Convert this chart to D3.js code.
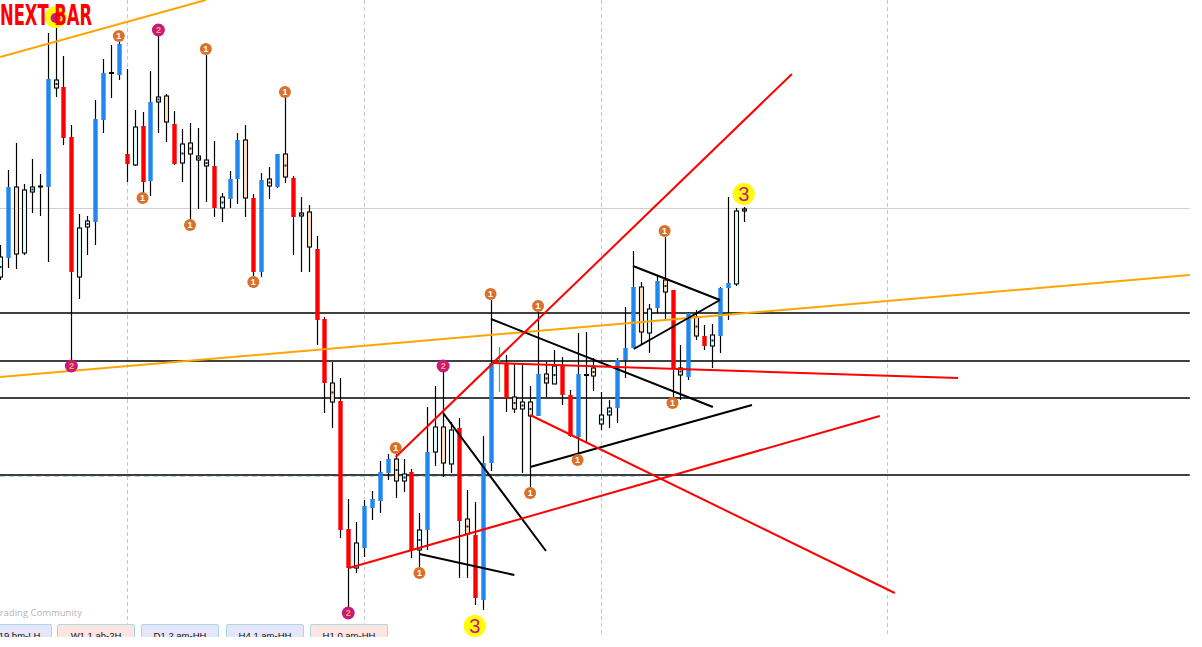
<!DOCTYPE html>
<html>
<head>
<meta charset="utf-8">
<title>next bar</title>
<style>
  body{margin:0;background:#fff;}
  svg{display:block;font-family:"Liberation Sans",Arial,sans-serif;}
</style>
<script src="https://d3js.org/d3.v7.min.js"></script>
</head>
<body>
<svg width="1202" height="647"></svg>
<script>
// candle kinds: B blue up, R red down, C light up, W wheat down, D doji, G green tick
var kinds = ["C","B","W","C","C","D","B","W","R","R",
             "C","C","B","B","D","B","R","C","R","B",
             "C","W","R","C","W","C","W","R","C","B",
             "B","W","R","B","W","B","W","R","C","W",
             "R","R","W","R","R","C","B","B","B","B",
             "W","C","R","C","B","C","W","C","R","W",
             "R","B","B","G","R","W","C","W","B","W",
             "C","R","R","B","D","W","C","C","B","B",
             "B","W","C","B","W","R","W","B","W","R",
             "C","B","B","C","C"];
var highs = [402,477,504,463,488,473,614,635,591,522,
             433,431,547,588,602,605,578,537,535,576,
             611,553,536,518,524,519,592,506,454,476,
             514,522,453,474,480,493,550,471,450,442,
             411,330,285,269,148,125,147,156,186,193,
             193,188,178,134,240,261,275,225,229,157,
             145,211,347,300,292,283,283,261,335,285,
             297,290,257,314,315,289,255,247,289,340,
             396,365,343,372,410,357,302,335,337,322,
             323,360,450,439,440];
var lows  = [367,379,378,392,434,431,385,550,502,287,
             348,392,402,514,549,567,465,481,454,451,
             514,505,482,465,427,438,445,430,425,439,
             443,430,370,370,448,459,464,392,375,375,
             302,234,219,109,40,74,90,127,134,167,
             149,155,89,80,97,181,170,174,69,69,
             42,37,176,255,235,234,174,160,231,250,
             263,242,210,194,205,256,217,219,224,269,
             299,302,294,334,327,249,247,267,307,297,
             279,294,327,361,425];
var opens = [370,389,460,394,455,460,460,567,560,510,
             370,420,425,527,573,572,493,482,521,466,
             545,551,523,484,504,487,487,481,439,448,
             468,507,449,375,468,460,493,469,431,435,
             398,328,264,246,118,79,99,139,146,174,
             188,166,175,97,117,195,220,183,219,128,
             112,47,184,277,284,250,238,245,231,273,
             263,281,252,210,271,279,223,232,239,287,
             299,360,314,339,367,357,279,270,330,311,
             301,311,359,363,436];
var closes = [390,460,393,457,460,461,568,559,509,375,
              419,426,528,574,575,603,483,520,465,545,
              550,525,483,503,493,491,481,439,450,468,
              507,449,375,467,461,493,470,430,434,400,
              327,264,245,117,79,104,141,148,175,188,
              166,173,97,117,195,220,184,217,126,113,
              49,184,284,278,249,238,245,231,273,264,
              281,252,211,273,273,271,232,239,287,299,
              360,315,338,366,355,279,272,334,311,301,
              312,359,364,436,438];

// swing labels
var markIdx = [7,7,15,20,26,36,18,24,32,9,62,68,56,50,67,53,44,60,73,84,85,94];
var markLvl = [630,629,611,617,598,555,449,422,365,281,353,341,281,199,154,74,34,21,187,416,244,453];
var markLbl = ["3","2","1","2","1","1","1","1","1","2","1","1","2","1","1","1","2","3","1","1","1","3"];

// levels and drawn lines (bar index, price level)
var hLevels = [334, 286, 249, 172];
var grayLevel = 439;
var tealLevel = 170.5;
var sepIdx = [16, 46, 76, 112.1];
var lastIdx = 150.4;
var orangeLines = [[[0,590],[26,647]], [[0,270],[150.4,372]]];
var redLines = [[[50,190],[100.1,573]], [[44.1,79],[111.2,231]],
                [[62.3,284],[121.1,269]], [[67,232],[113.1,54]]];
var blackLines = [[[56,234],[69,96]], [[53,93],[65,72]],
                  [[62.05,328],[90.1,240]], [[67,180],[95.05,242]],
                  [[80,381],[91,347]], [[80.1,298],[91,347]]];

var tabLabels = ["19 bm-LH", "W1 1 ah-2H", "D1 2 am-HH", "H4 1 am-HH", "H1 0 am-HH"];
var tabFills = ["#e6e6fa", "#ffe4e1", "#e6e6fa", "#e6e6fa", "#ffe4e1"];

var svg = d3.select("svg");
var x = d3.scaleLinear().domain([0, 94]).range([0.2, 743.7]);
var y = d3.scaleLinear().domain([0, 647]).range([647, 0]);

svg.append("defs").append("clipPath").attr("id", "plot")
   .append("rect").attr("x", 0).attr("y", 0).attr("width", 1191).attr("height", 637);

var g = svg.append("g").attr("clip-path", "url(#plot)");

// separators
g.selectAll(".sep").data(sepIdx).enter().append("line")
 .attr("x1", function(d){ return Math.round(x(d)) + 0.5; })
 .attr("x2", function(d){ return Math.round(x(d)) + 0.5; })
 .attr("y1", 0).attr("y2", 637)
 .attr("stroke", "#c8c8c8").attr("stroke-dasharray", "4,3");

g.append("line").attr("x1", 0).attr("x2", x(lastIdx))
 .attr("y1", Math.round(y(grayLevel)) + 0.5).attr("y2", Math.round(y(grayLevel)) + 0.5)
 .attr("stroke", "#cfcfcf");

g.append("line").attr("x1", 0).attr("x2", 640)
 .attr("y1", y(tealLevel)).attr("y2", y(tealLevel))
 .attr("stroke", "#a9d6d6").attr("stroke-dasharray", "5,4");

g.selectAll(".hl").data(hLevels).enter().append("line")
 .attr("x1", 0).attr("x2", x(lastIdx))
 .attr("y1", function(d){ return y(d); }).attr("y2", function(d){ return y(d); })
 .attr("stroke", "#000").attr("stroke-width", 1.3);

// candles
var fills = {B:"#1e88f0", R:"#ff0000", C:"#e0ffff", W:"#ffe4c4"};
var idx = d3.range(kinds.length);
var c = g.selectAll(".candle").data(idx).enter().append("g");
c.append("line")
 .attr("x1", function(i){ return Math.round(x(i)) + 0.5; })
 .attr("x2", function(i){ return Math.round(x(i)) + 0.5; })
 .attr("y1", function(i){ return y(highs[i]); })
 .attr("y2", function(i){ return y(lows[i]); })
 .attr("stroke", function(i){ return kinds[i] == "G" ? "#00e000" : "#000"; })
 .attr("stroke-width", 1.2);
c.filter(function(i){ return kinds[i] != "G"; }).append("rect")
 .attr("x", function(i){
    var k = kinds[i];
    return Math.round(x(i)) + (k == "B" || k == "R" ? -1.7 : k == "D" ? -2 : -1.5);
 })
 .attr("width", function(i){ var k = kinds[i]; return k == "B" || k == "R" ? 4.4 : k == "D" ? 5 : 4; })
 .attr("y", function(i){
    if (kinds[i] == "D") return y((opens[i] + closes[i]) / 2) - 1;
    return y(Math.max(opens[i], closes[i]));
 })
 .attr("height", function(i){
    if (kinds[i] == "D") return 2;
    return Math.max(1, Math.abs(opens[i] - closes[i]));
 })
 .attr("fill", function(i){ return fills[kinds[i]] || "#000"; })
 .attr("stroke", function(i){ var k = kinds[i]; return k == "C" || k == "W" ? "#000" : "none"; })
 .attr("stroke-width", 1.1);
// small dot on short light bodies
c.filter(function(i){ return (kinds[i] == "C" || kinds[i] == "W") && Math.abs(opens[i] - closes[i]) < 24; })
 .append("rect")
 .attr("x", function(i){ return Math.round(x(i)) - 0.5; })
 .attr("y", function(i){ return y((opens[i] + closes[i]) / 2) - 1; })
 .attr("width", 2).attr("height", 2).attr("fill", "#0a2a55");

// trendlines
function drawLines(data, color) {
  g.selectAll(null).data(data).enter().append("line")
   .attr("x1", function(d){ return x(d[0][0]); }).attr("y1", function(d){ return y(d[0][1]); })
   .attr("x2", function(d){ return x(d[1][0]); }).attr("y2", function(d){ return y(d[1][1]); })
   .attr("stroke", color).attr("stroke-width", 2);
}
drawLines(orangeLines, "#ffa500");
drawLines(blackLines, "#000");
drawLines(redLines, "#ff0000");

// swing labels
var mk = g.selectAll(".mk").data(d3.range(markIdx.length)).enter().append("g")
 .attr("transform", function(i){ return "translate(" + x(markIdx[i]) + "," + y(markLvl[i]) + ")"; });
mk.append("circle")
 .attr("r", function(i){ return markLbl[i] == "3" ? 11 : markLbl[i] == "2" ? (markIdx[i] == 7 ? 5 : 6.5) : 6; })
 .attr("fill", function(i){ return markLbl[i] == "3" ? "#ffff00" : markLbl[i] == "2" ? "#c8197e" : "#d8722a"; });
mk.filter(function(i){ return markIdx[i] != 7 || markLbl[i] == "3"; }).append("text")
 .attr("text-anchor", "middle")
 .attr("dy", function(i){ return markLbl[i] == "3" ? 6.5 : 3.2; })
 .attr("font-size", function(i){ return markLbl[i] == "3" ? 20 : 9; })
 .attr("font-weight", function(i){ return markLbl[i] == "3" ? "normal" : "bold"; })
 .attr("fill", function(i){ return markLbl[i] == "3" ? "#c71585" : markLbl[i] == "2" ? "#ffb347" : "#fff"; })
 .text(function(i){ return markIdx[i] == 7 ? "" : markLbl[i]; });

// footer text and tabs
g.append("text").attr("x", 82).attr("y", 616).attr("text-anchor", "end")
 .attr("font-family", "'Open Sans', sans-serif").attr("font-size", 9.5).attr("fill", "#b4b4b4")
 .text("Trading Community");

var tabX = [-23, 57, 141, 226, 310];
var tab = g.selectAll(".tab").data(tabLabels).enter().append("g");
tab.append("rect")
 .attr("x", function(d, i){ return tabX[i] + 0.5; })
 .attr("y", 624.5)
 .attr("width", function(d, i){ return i == 0 ? 74 : 77; })
 .attr("height", 20)
 .attr("rx", 1.5)
 .attr("fill", function(d, i){ return tabFills[i]; })
 .attr("stroke", "#a8d8e4");
tab.append("text")
 .attr("x", function(d, i){ return i == 0 ? 19.5 : tabX[i] + 39; })
 .attr("y", 638.5)
 .attr("text-anchor", "middle")
 .attr("font-family", "'Liberation Sans Narrow', 'Liberation Sans', sans-serif")
 .attr("font-size", 9.5).attr("fill", "#111")
 .text(function(d){ return d; });

svg.append("text").attr("x", 0).attr("y", 25)
 .attr("font-family", "'DejaVu Sans Condensed', 'DejaVu Sans', sans-serif")
 .attr("font-weight", "bold").attr("font-size", 28).attr("fill", "#ff0000")
 .attr("textLength", 92).attr("lengthAdjust", "spacingAndGlyphs")
 .text("NEXT BAR");
</script>
</body>
</html>
